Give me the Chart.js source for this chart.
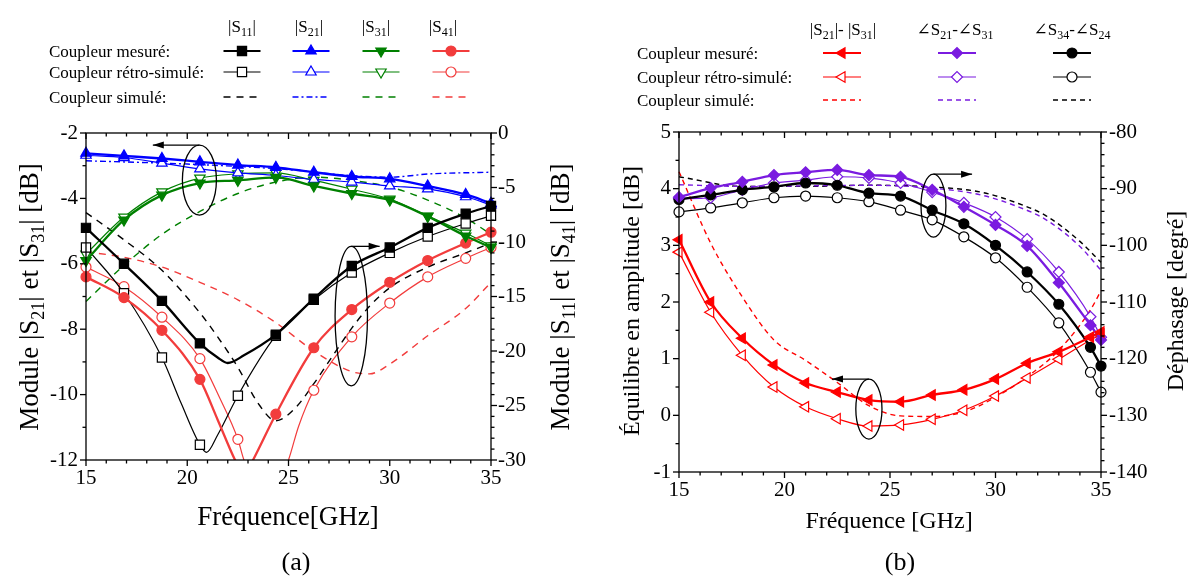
<!DOCTYPE html>
<html>
<head>
<meta charset="utf-8">
<script src="https://cdn.jsdelivr.net/npm/chart.js@4.4.0/dist/chart.umd.min.js"></script>
<style>
  html, body { margin: 0; padding: 0; background: #fff; }
  #wrap { position: relative; width: 1189px; height: 579px; }
  #chartA { position: absolute; left: 0; top: 0; }
  #chartB { position: absolute; left: 595px; top: 0; }
</style>
</head>
<body>
<div id="wrap">
  <canvas id="chartA" width="595" height="579"></canvas>
  <canvas id="chartB" width="594" height="579"></canvas>
</div>
<script>
// ---------- (a) module des paramètres S (GHz / dB) ----------
const markFreqA = [15, 16.875, 18.75, 20.625, 22.5, 24.375, 26.25, 28.125, 30, 31.875, 33.75, 35];

// |S11| (axe de droite)
const s11MesFreq = [15, 16.875, 18.75, 20.625, 21.5, 22.0, 22.8, 24.375, 26.25, 28.125, 30, 31.875, 33.75, 35];
const s11Mes     = [-8.7, -12.0, -15.4, -19.3, -20.6, -21.1, -20.4, -18.5, -15.2, -12.2, -10.5, -8.7, -7.4, -6.7];
const s11RetroFreq = [15, 16.875, 18.75, 19.7, 20.625, 20.95, 21.5, 22.5, 24.375, 26.25, 28.125, 30, 31.875, 33.75, 35];
const s11Retro     = [-10.5, -14.7, -20.6, -24.8, -28.6, -29.3, -27.7, -24.1, -18.6, -15.3, -12.8, -11.0, -9.5, -8.3, -7.6];
const s11SimFreq = [15, 16.875, 18.75, 20.625, 21.5, 22.5, 23.5, 24.375, 25.3, 26.25, 27.2, 28.125, 29, 30, 31.875, 33.75, 35];
const s11Sim     = [-7.3, -9.8, -12.6, -16.5, -18.7, -21.5, -24.8, -26.4, -25.3, -23.0, -20.4, -17.9, -15.9, -14.2, -12.3, -11.0, -10.1];

// |S21| (axe de gauche)
const s21Mes   = [-2.62, -2.7, -2.78, -2.88, -2.98, -3.05, -3.2, -3.33, -3.4, -3.62, -3.88, -4.15];
const s21Retro = [-2.68, -2.75, -2.92, -3.1, -3.22, -3.3, -3.42, -3.5, -3.62, -3.71, -3.95, -4.2];
const s21SimFreq = [15, 20, 25, 28, 30, 32, 35];
const s21Sim     = [-2.85, -2.95, -3.12, -3.3, -3.35, -3.25, -3.2];

// |S31| (axe de gauche)
const s31Mes   = [-5.9, -4.66, -3.9, -3.53, -3.45, -3.36, -3.62, -3.85, -4.05, -4.55, -5.15, -5.5];
const s31Retro = [-5.7, -4.57, -3.8, -3.38, -3.25, -3.22, -3.45, -3.72, -4.02, -4.54, -5.06, -5.45];
const s31Sim   = [-7.15, -6.05, -5.1, -4.4, -3.85, -3.5, -3.35, -3.45, -3.65, -4.05, -4.6, -5.1];

// |S41| (axe de droite)
const s41MesFreq = [15, 16.875, 18.75, 20.625, 21.5, 22.36, 22.8, 23.25, 24.375, 26.25, 28.125, 30, 31.875, 33.75, 35];
const s41Mes     = [-13.2, -15.1, -18.1, -22.6, -26.3, -30, -31.5, -30, -25.8, -19.7, -16.2, -13.7, -11.7, -10.1, -9.1];
const s41RetroFreq = [15, 16.875, 18.75, 20.625, 21.6, 22.5, 22.8, 23.6, 24.3, 25.0, 25.5, 26.25, 28.125, 30, 31.875, 33.75, 35];
const s41Retro     = [-12.3, -14.1, -16.9, -20.7, -24.3, -28.1, -30, -33, -33, -30, -26.9, -23.6, -18.7, -15.6, -13.2, -11.5, -10.5];
const s41SimFreq = [15, 16.875, 18.75, 20.625, 22.5, 24.375, 26.25, 28.125, 29, 30, 31.875, 33.75, 35];
const s41Sim     = [-10.9, -11.4, -12.3, -13.7, -15.3, -17.4, -20.0, -21.9, -22.1, -21.2, -18.6, -16.1, -13.7];

// ---------- (b) équilibre amplitude / phase ----------
const markFreqB = [15, 16.5, 18, 19.5, 21, 22.5, 24, 25.5, 27, 28.5, 30, 31.5, 33, 34.5, 35];

// |S21|-|S31| en dB (axe de gauche)
const ampMes   = [3.1, 2.0, 1.36, 0.89, 0.57, 0.41, 0.27, 0.24, 0.36, 0.45, 0.64, 0.92, 1.12, 1.38, 1.47];
const ampRetro = [2.88, 1.82, 1.06, 0.5, 0.15, -0.06, -0.19, -0.17, -0.07, 0.09, 0.34, 0.66, 0.99, 1.33, 1.43];
const ampSim   = [4.3, 3.04, 2.09, 1.33, 0.97, 0.58, 0.17, -0.01, -0.02, 0.06, 0.32, 0.68, 1.15, 1.86, 2.2];

// phases en degrés (axe de droite)
const ph2131Mes   = [-91.5, -89.9, -88.8, -87.6, -87.1, -86.7, -87.6, -87.9, -90.2, -93.2, -96.4, -100.1, -106.6, -114.1, -116.7];
const ph2131Retro = [-91.8, -91.6, -90.2, -89.0, -88.5, -87.9, -88.1, -89.0, -90.6, -92.5, -95.0, -98.9, -104.7, -112.6, -116.2];
const ph3424Mes   = [-91.9, -91.1, -90.2, -89.7, -89.0, -89.4, -90.8, -91.3, -93.8, -96.2, -100.0, -104.7, -110.4, -118.0, -121.3];
const ph3424Retro = [-94.1, -93.4, -92.5, -91.6, -91.3, -91.6, -92.3, -93.8, -95.5, -98.5, -102.2, -107.4, -113.7, -122.4, -125.9];
const phSimFreq = [15, 18, 21, 24, 27, 29.3, 31, 32.4, 34, 35];
const ph2131Sim = [-89.3, -89.6, -89.5, -89.4, -89.9, -91.1, -93.1, -95.5, -100.2, -104.4];
const ph3424Sim = [-87.9, -89.6, -89.6, -89.4, -89.7, -90.6, -92.5, -94.8, -99.3, -103.0];

// ---------- style ----------
const FONT = "'Liberation Serif', 'DejaVu Serif', serif";
Chart.defaults.font.family = FONT;
Chart.defaults.font.size = 21;
Chart.defaults.color = '#000';

const BLACK = '#000000', BLUE = '#0000ff', GREEN = '#008000';
const RED_A = '#f23c3c', RED_B = '#ff0000', PURPLE = '#7a1be0';

function courbe(o) {
  const ds = {
    label: o.label,
    data: o.freq.map((f, i) => ({ x: f, y: o.vals[i] })),
    yAxisID: o.axis,
    borderColor: o.color,
    backgroundColor: o.color,
    cubicInterpolationMode: 'monotone',
    clip: { left: 8, right: 8, top: 8, bottom: 0 },
    legendCol: o.col,
    legendRow: o.kind === 'mes' ? 0 : (o.kind === 'retro' ? 1 : 2)
  };
  if (o.kind === 'sim') {
    ds.borderWidth = 1.4;
    ds.borderDash = o.dash;
    ds.pointRadius = 0;
  } else {
    const r = o.shape === 'rect' ? 6.5 : o.shape === 'circle' ? 5 : o.shape === 'rectRot' ? 5.5 : 6;
    ds.borderWidth = o.kind === 'mes' ? 2.3 : 1.2;
    ds.pointStyle = o.shape;
    ds.pointRotation = o.rot || 0;
    ds.pointBackgroundColor = o.kind === 'mes' ? o.color : '#ffffff';
    ds.pointBorderColor = o.color;
    ds.pointBorderWidth = 1.2;
    ds.legendRadius = r;
    ds.pointRadius = c => (c.raw && o.marks.some(m => Math.abs(m - c.raw.x) < 1e-6)) ? r : 0;
    ds.pointHoverRadius = 0;
  }
  return ds;
}

// text with subscripts written as _{..}
function richText(ctx, str, x, y, size, align) {
  const parts = str.split(/_\{([^}]*)\}/);
  const sub = Math.round(size * 0.68);
  let total = 0;
  const widths = parts.map((p, i) => {
    ctx.font = (i % 2 ? sub : size) + 'px ' + FONT;
    const w = ctx.measureText(p).width;
    total += w;
    return w;
  });
  let cx = align === 'center' ? x - total / 2 : (align === 'right' ? x - total : x);
  ctx.textAlign = 'left';
  ctx.textBaseline = 'alphabetic';
  ctx.fillStyle = '#000';
  parts.forEach((p, i) => {
    ctx.font = (i % 2 ? sub : size) + 'px ' + FONT;
    ctx.fillText(p, cx, y + (i % 2 ? size * 0.22 : 0));
    cx += widths[i];
  });
}

function axisTicks(ctx, scale, minor, major, side, a) {
  const n = Math.round((scale.max - scale.min) / minor);
  for (let i = 0; i <= n; i++) {
    const v = scale.min + i * minor;
    const isMajor = Math.abs(v / major - Math.round(v / major)) < 1e-6;
    const len = isMajor ? 6 : 3.5;
    const p = scale.getPixelForValue(v);
    ctx.beginPath();
    if (side === 'bottom') { ctx.moveTo(p, a.bottom); ctx.lineTo(p, a.bottom + len); }
    if (side === 'top') { ctx.moveTo(p, a.top); ctx.lineTo(p, a.top + len); }
    if (side === 'left') { ctx.moveTo(a.left, p); ctx.lineTo(a.left - len, p); }
    if (side === 'right') { ctx.moveTo(a.right, p); ctx.lineTo(a.right + len, p); }
    ctx.stroke();
  }
}

const decorPlugin = {
  id: 'decor',
  afterDraw(chart, args, o) {
    const { ctx, chartArea: a, scales } = chart;
    ctx.save();
    ctx.strokeStyle = '#000';
    ctx.fillStyle = '#000';
    ctx.lineWidth = 1.3;
    ctx.strokeRect(a.left, a.top, a.right - a.left, a.bottom - a.top);
    axisTicks(ctx, scales.x, o.ticks.x[0], o.ticks.x[1], 'bottom', a);
    axisTicks(ctx, scales.x, o.ticks.x[0], o.ticks.x[1], 'top', a);
    axisTicks(ctx, scales.y, o.ticks.y[0], o.ticks.y[1], 'left', a);
    axisTicks(ctx, scales.y2, o.ticks.y2[0], o.ticks.y2[1], 'right', a);

    // ellipses + flèches
    o.ovals.forEach(e => {
      const sx = scales.x, sy = scales[e.axis];
      const cx = sx.getPixelForValue(e.cx), cy = sy.getPixelForValue(e.cy);
      const rx = Math.abs(sx.getPixelForValue(e.cx + e.rx) - cx);
      const ry = Math.abs(sy.getPixelForValue(e.cy + e.ry) - cy);
      ctx.beginPath();
      ctx.ellipse(cx, cy, rx, ry, 0, 0, 2 * Math.PI);
      ctx.stroke();
      const tx = sx.getPixelForValue(e.arrowTo), ty = cy - ry;
      ctx.beginPath(); ctx.moveTo(cx, ty); ctx.lineTo(tx, ty); ctx.stroke();
      const d = Math.sign(tx - cx);
      ctx.beginPath();
      ctx.moveTo(tx, ty); ctx.lineTo(tx - d * 11, ty - 3.5); ctx.lineTo(tx - d * 11, ty + 3.5);
      ctx.closePath(); ctx.fill();
    });

    // titres
    o.titles.forEach(t => {
      if (t.rot) {
        ctx.save();
        ctx.translate(t.x, t.y);
        ctx.rotate(-Math.PI / 2);
        richText(ctx, t.text, 0, t.size * 0.32, t.size, 'center');
        ctx.restore();
      } else {
        richText(ctx, t.text, t.x, t.y + t.size * 0.32, t.size, 'center');
      }
    });

    // légende
    const L = o.legend;
    L.heads.forEach((h, i) => richText(ctx, h, L.headX[i], L.headY, L.size, 'center'));
    L.names.forEach((nm, j) => richText(ctx, nm, L.textX, L.rowY[j] + 6, L.size, 'left'));
    chart.data.datasets.forEach(ds => {
      const cx = L.colX[ds.legendCol], y = L.rowY[ds.legendRow];
      ctx.save();
      ctx.strokeStyle = ds.borderColor;
      ctx.lineWidth = ds.legendRow === 0 ? 1.8 : ds.borderWidth;
      ctx.setLineDash(ds.borderDash || []);
      ctx.beginPath(); ctx.moveTo(cx - L.half, y); ctx.lineTo(cx + L.half, y); ctx.stroke();
      ctx.setLineDash([]);
      if (ds.pointStyle) {
        ctx.fillStyle = ds.pointBackgroundColor;
        ctx.strokeStyle = ds.pointBorderColor;
        ctx.lineWidth = ds.pointBorderWidth;
        Chart.helpers.drawPoint(ctx, { pointStyle: ds.pointStyle, rotation: ds.pointRotation, radius: ds.legendRadius, borderWidth: ds.pointBorderWidth }, cx, y);
      }
      ctx.restore();
    });
    ctx.restore();
  }
};

function scaleOpts(min, max, step, pos, pad, fit) {
  return {
    type: 'linear', position: pos, min: min, max: max,
    grid: { display: false, drawTicks: false },
    border: { display: false },
    ticks: { stepSize: step, padding: pad, autoSkip: false, maxRotation: 0, font: { size: 21 }, color: '#000' },
    afterFit: fit
  };
}

const rowNames = ['Coupleur mesuré:', 'Coupleur rétro-simulé:', 'Coupleur simulé:'];

// ---------- graphique (a) ----------
const datasetsA = [
  courbe({ label: '|S11| mesuré', freq: s11MesFreq, vals: s11Mes, axis: 'y2', color: BLACK, kind: 'mes', shape: 'rect', col: 0, marks: markFreqA }),
  courbe({ label: '|S21| mesuré', freq: markFreqA, vals: s21Mes, axis: 'y', color: BLUE, kind: 'mes', shape: 'triangle', col: 1, marks: markFreqA }),
  courbe({ label: '|S31| mesuré', freq: markFreqA, vals: s31Mes, axis: 'y', color: GREEN, kind: 'mes', shape: 'triangle', rot: 180, col: 2, marks: markFreqA }),
  courbe({ label: '|S41| mesuré', freq: s41MesFreq, vals: s41Mes, axis: 'y2', color: RED_A, kind: 'mes', shape: 'circle', col: 3, marks: markFreqA }),
  courbe({ label: '|S11| rétro', freq: s11RetroFreq, vals: s11Retro, axis: 'y2', color: BLACK, kind: 'retro', shape: 'rect', col: 0, marks: markFreqA }),
  courbe({ label: '|S21| rétro', freq: markFreqA, vals: s21Retro, axis: 'y', color: BLUE, kind: 'retro', shape: 'triangle', col: 1, marks: markFreqA }),
  courbe({ label: '|S31| rétro', freq: markFreqA, vals: s31Retro, axis: 'y', color: GREEN, kind: 'retro', shape: 'triangle', rot: 180, col: 2, marks: markFreqA }),
  courbe({ label: '|S41| rétro', freq: s41RetroFreq, vals: s41Retro, axis: 'y2', color: RED_A, kind: 'retro', shape: 'circle', col: 3, marks: markFreqA }),
  courbe({ label: '|S11| simulé', freq: s11SimFreq, vals: s11Sim, axis: 'y2', color: BLACK, kind: 'sim', dash: [7, 6], col: 0 }),
  courbe({ label: '|S21| simulé', freq: s21SimFreq, vals: s21Sim, axis: 'y', color: BLUE, kind: 'sim', dash: [6, 3, 2, 3], col: 1 }),
  courbe({ label: '|S31| simulé', freq: markFreqA, vals: s31Sim, axis: 'y', color: GREEN, kind: 'sim', dash: [7, 6], col: 2 }),
  courbe({ label: '|S41| simulé', freq: s41SimFreq, vals: s41Sim, axis: 'y2', color: RED_A, kind: 'sim', dash: [7, 6], col: 3 })
];

new Chart(document.getElementById('chartA'), {
  type: 'line',
  data: { datasets: datasetsA },
  options: {
    responsive: false, animation: false, devicePixelRatio: 1,
    layout: { padding: { top: 133, left: 0, right: 0, bottom: 0 } },
    plugins: {
      legend: { display: false }, tooltip: { enabled: false },
      decor: {
        ticks: { x: [1, 5], y: [1, 2], y2: [1, 5] },
        ovals: [
          { axis: 'y', cx: 20.6, cy: -3.44, rx: 0.84, ry: 1.07, arrowTo: 18.3 },
          { axis: 'y2', cx: 28.1, cy: -16.8, rx: 0.8, ry: 6.4, arrowTo: 29.5 }
        ],
        titles: [
          { text: 'Fréquence[GHz]', x: 288, y: 516, size: 27 },
          { text: 'Module |S_{21}| et |S_{31}| [dB]', x: 29, y: 297, size: 27, rot: true },
          { text: 'Module |S_{11}| et |S_{41}| [dB]', x: 560, y: 297, size: 27, rot: true },
          { text: '(a)', x: 296, y: 562, size: 26 }
        ],
        legend: {
          size: 17, textX: 49, rowY: [51, 72, 97], names: rowNames,
          colX: [242, 311, 381, 451], half: 18.5,
          headX: [242, 309, 376, 443], headY: 32,
          heads: ['|S_{11}|', '|S_{21}|', '|S_{31}|', '|S_{41}|']
        }
      }
    },
    scales: {
      x: scaleOpts(15, 35, 5, 'bottom', 6, s => { s.height = 119; }),
      y: scaleOpts(-12, -2, 2, 'left', 8, s => { s.width = 86; }),
      y2: scaleOpts(-30, 0, 5, 'right', 7, s => { s.width = 104; })
    }
  },
  plugins: [decorPlugin]
});

// ---------- graphique (b) ----------
const datasetsB = [
  courbe({ label: '|S21|-|S31| mesuré', freq: markFreqB, vals: ampMes, axis: 'y', color: RED_B, kind: 'mes', shape: 'triangle', rot: 270, col: 0, marks: markFreqB }),
  courbe({ label: '∠S21-∠S31 mesuré', freq: markFreqB, vals: ph2131Mes, axis: 'y2', color: PURPLE, kind: 'mes', shape: 'rectRot', col: 1, marks: markFreqB }),
  courbe({ label: '∠S34-∠S24 mesuré', freq: markFreqB, vals: ph3424Mes, axis: 'y2', color: BLACK, kind: 'mes', shape: 'circle', col: 2, marks: markFreqB }),
  courbe({ label: '|S21|-|S31| rétro', freq: markFreqB, vals: ampRetro, axis: 'y', color: RED_B, kind: 'retro', shape: 'triangle', rot: 270, col: 0, marks: markFreqB }),
  courbe({ label: '∠S21-∠S31 rétro', freq: markFreqB, vals: ph2131Retro, axis: 'y2', color: PURPLE, kind: 'retro', shape: 'rectRot', col: 1, marks: markFreqB }),
  courbe({ label: '∠S34-∠S24 rétro', freq: markFreqB, vals: ph3424Retro, axis: 'y2', color: BLACK, kind: 'retro', shape: 'circle', col: 2, marks: markFreqB }),
  courbe({ label: '|S21|-|S31| simulé', freq: markFreqB, vals: ampSim, axis: 'y', color: RED_B, kind: 'sim', dash: [5, 4], col: 0 }),
  courbe({ label: '∠S21-∠S31 simulé', freq: phSimFreq, vals: ph2131Sim, axis: 'y2', color: PURPLE, kind: 'sim', dash: [5, 4], col: 1 }),
  courbe({ label: '∠S34-∠S24 simulé', freq: phSimFreq, vals: ph3424Sim, axis: 'y2', color: BLACK, kind: 'sim', dash: [5, 4], col: 2 })
];

new Chart(document.getElementById('chartB'), {
  type: 'line',
  data: { datasets: datasetsB },
  options: {
    responsive: false, animation: false, devicePixelRatio: 1,
    layout: { padding: { top: 132, left: 0, right: 0, bottom: 0 } },
    plugins: {
      legend: { display: false }, tooltip: { enabled: false },
      decor: {
        ticks: { x: [1, 5], y: [0.5, 1], y2: [2, 10] },
        ovals: [
          { axis: 'y', cx: 27.06, cy: 3.70, rx: 0.59, ry: 0.556, arrowTo: 28.89 },
          { axis: 'y', cx: 24.0, cy: 0.11, rx: 0.62, ry: 0.53, arrowTo: 22.25 }
        ],
        titles: [
          { text: 'Fréquence [GHz]', x: 294, y: 520, size: 24 },
          { text: 'Équilibre en amplitude [dB]', x: 36, y: 301, size: 24, rot: true },
          { text: 'Déphasage [degré]', x: 580, y: 301, size: 24, rot: true },
          { text: '(b)', x: 305, y: 562, size: 26 }
        ],
        legend: {
          size: 17, textX: 42, rowY: [53, 77, 100], names: rowNames,
          colX: [247, 362, 477], half: 19,
          headX: [248, 360, 477], headY: 35,
          heads: ['|S_{21}|- |S_{31}|', '∠S_{21}-∠S_{31}', '∠S_{34}-∠S_{24}']
        }
      }
    },
    scales: {
      x: scaleOpts(15, 35, 5, 'bottom', 6, s => { s.height = 107; }),
      y: scaleOpts(-1, 5, 1, 'left', 8, s => { s.width = 84; }),
      y2: scaleOpts(-140, -80, 10, 'right', 8, s => { s.width = 88; })
    }
  },
  plugins: [decorPlugin]
});
</script>
</body>
</html>
